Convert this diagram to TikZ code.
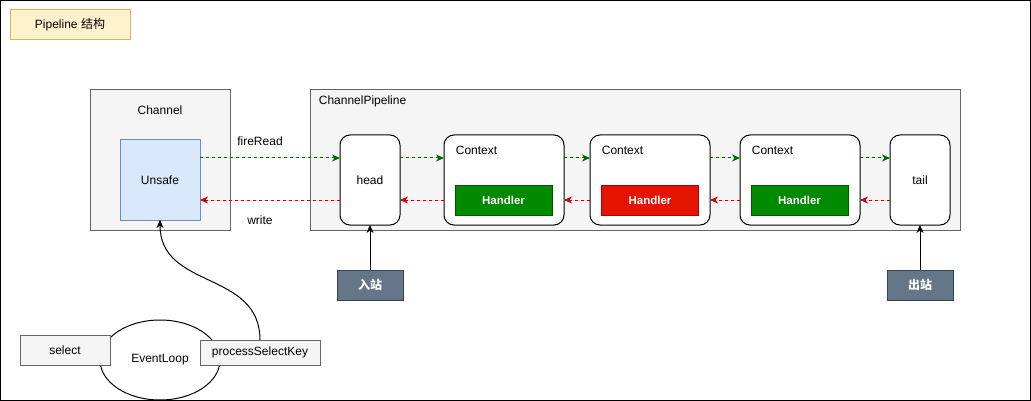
\documentclass[tikz,border=0pt]{standalone}
\usepackage{fontspec}
\setmainfont{Liberation Sans}
\newfontfamily\cjk{Noto Sans CJK SC}
\usetikzlibrary{arrows.meta}
\usetikzlibrary{shapes.geometric}

\definecolor{titlefill}{HTML}{FFF2CC}
\definecolor{titleline}{HTML}{D6B656}
\definecolor{grayfill}{HTML}{F5F5F5}
\definecolor{grayline}{HTML}{666666}
\definecolor{bluefill}{HTML}{DAE8FC}
\definecolor{blueline}{HTML}{6C8EBF}
\definecolor{okfill}{HTML}{008A00}
\definecolor{okline}{HTML}{005700}
\definecolor{badfill}{HTML}{E51400}
\definecolor{badline}{HTML}{B20000}
\definecolor{slatefill}{HTML}{647687}
\definecolor{slateline}{HTML}{314354}
\definecolor{fwdcol}{HTML}{006600}
\definecolor{bwdcol}{HTML}{CC0000}

\begin{document}
\begin{tikzpicture}[x=1pt,y=-1pt,line width=1pt,font=\fontsize{12}{14}\selectfont]
  \tikzset{box/.style = {shape=rectangle,draw,inner sep=0pt,outer sep=0pt}}
  \tikzset{graybox/.style = {box,fill=grayfill,draw=grayline}}
  \tikzset{ctxbox/.style = {box,rounded corners=10pt,fill=white,minimum height=90}}
  \tikzset{handler/.style = {box,minimum width=97,minimum height=30,text=white,font=\fontsize{11.5}{14}\selectfont\bfseries}}
  \tikzset{portbox/.style = {box,fill=slatefill,draw=slateline,minimum width=66,minimum height=30,text=white,font=\fontsize{12}{14}\selectfont\cjk\bfseries}}
  \tikzset{edge/.style = {-{Stealth[length=8pt,width=7pt,inset=2.5pt]}}}
  \tikzset{fwd/.style = {edge,dash pattern=on 3pt off 3pt,draw=fwdcol,fill=fwdcol}}
  \tikzset{bwd/.style = {edge,dash pattern=on 3pt off 3pt,draw=bwdcol,fill=bwdcol}}

  \useasboundingbox (0,0) rectangle (1031,401);
  \draw[black] (0.5,0.5) rectangle (1030.5,400.5);

  \node[box, fill=titlefill, draw=titleline, minimum width=120, minimum height=30] (title) at (70,25) {Pipeline {\cjk 结构}};

  \node[graybox, minimum width=140, minimum height=140] (channel) at (160,160) {};
  \node (chlabel) at (160,110) {Channel};
  \node[box, fill=bluefill, draw=blueline, minimum size=80] (unsafe) at (160,180) {Unsafe};

  \node[graybox, minimum width=650, minimum height=140] (pipeline) at (635,160) {};
  \node[anchor=west] (pllabel) at (315,101) {ChannelPipeline};

  \node[ctxbox, minimum width=60] (head) at (370,180) {head};
  \node[ctxbox, minimum width=120] (ctx1) at (504,180) {};
  \node[ctxbox, minimum width=120] (ctx2) at (650,180) {};
  \node[ctxbox, minimum width=120] (ctx3) at (800,180) {};
  \node[ctxbox, minimum width=60] (tail) at (920,180) {tail};

  \node[anchor=west] (ctxlabel1) at (452,150) {Context};
  \node[anchor=west] (ctxlabel2) at (598,150) {Context};
  \node[anchor=west] (ctxlabel3) at (748,150) {Context};

  \node[handler, fill=okfill, draw=okline] (handler1) at (503.5,200) {Handler};
  \node[handler, fill=badfill, draw=badline] (handler2) at (650,200) {Handler};
  \node[handler, fill=okfill, draw=okline] (handler3) at (799.5,200) {Handler};

  \node[portbox] (inbound) at (370,285) {入站};
  \node[portbox] (outbound) at (920,285) {出站};

  \node[draw, ellipse, minimum width=120, minimum height=80, inner sep=0pt, outer sep=0pt] (eventloop) at (160,360) {EventLoop};
  \node[graybox, minimum width=90, minimum height=30] (select) at (65,350) {select};
  \node[graybox, minimum width=120, minimum height=25] (psk) at (260,352.5) {processSelectKey};

  \node (fireread) at (260,141) {fireRead};
  \node (write) at (260,220) {write};

  \draw[fwd] ([yshift=22pt]unsafe.east) to ([yshift=22pt]head.west);
  \draw[fwd] ([yshift=22pt]head.east) to ([yshift=22pt]ctx1.west);
  \draw[fwd] ([yshift=22pt]ctx1.east) to ([yshift=22pt]ctx2.west);
  \draw[fwd] ([yshift=22pt]ctx2.east) to ([yshift=22pt]ctx3.west);
  \draw[fwd] ([yshift=22pt]ctx3.east) to ([yshift=22pt]tail.west);

  \draw[bwd] ([yshift=-20pt]head.west) to ([yshift=-20pt]unsafe.east);
  \draw[bwd] ([yshift=-20pt]ctx1.west) to ([yshift=-20pt]head.east);
  \draw[bwd] ([yshift=-20pt]ctx2.west) to ([yshift=-20pt]ctx1.east);
  \draw[bwd] ([yshift=-20pt]ctx3.west) to ([yshift=-20pt]ctx2.east);
  \draw[bwd] ([yshift=-20pt]tail.west) to ([yshift=-20pt]ctx3.east);

  \draw[edge] (inbound.north) to (head.south);
  \draw[edge] (outbound.north) to (tail.south);

  \draw[edge] (psk.north) .. controls +(0,-70) and +(0,70) .. (unsafe.south);
\end{tikzpicture}
\end{document}
